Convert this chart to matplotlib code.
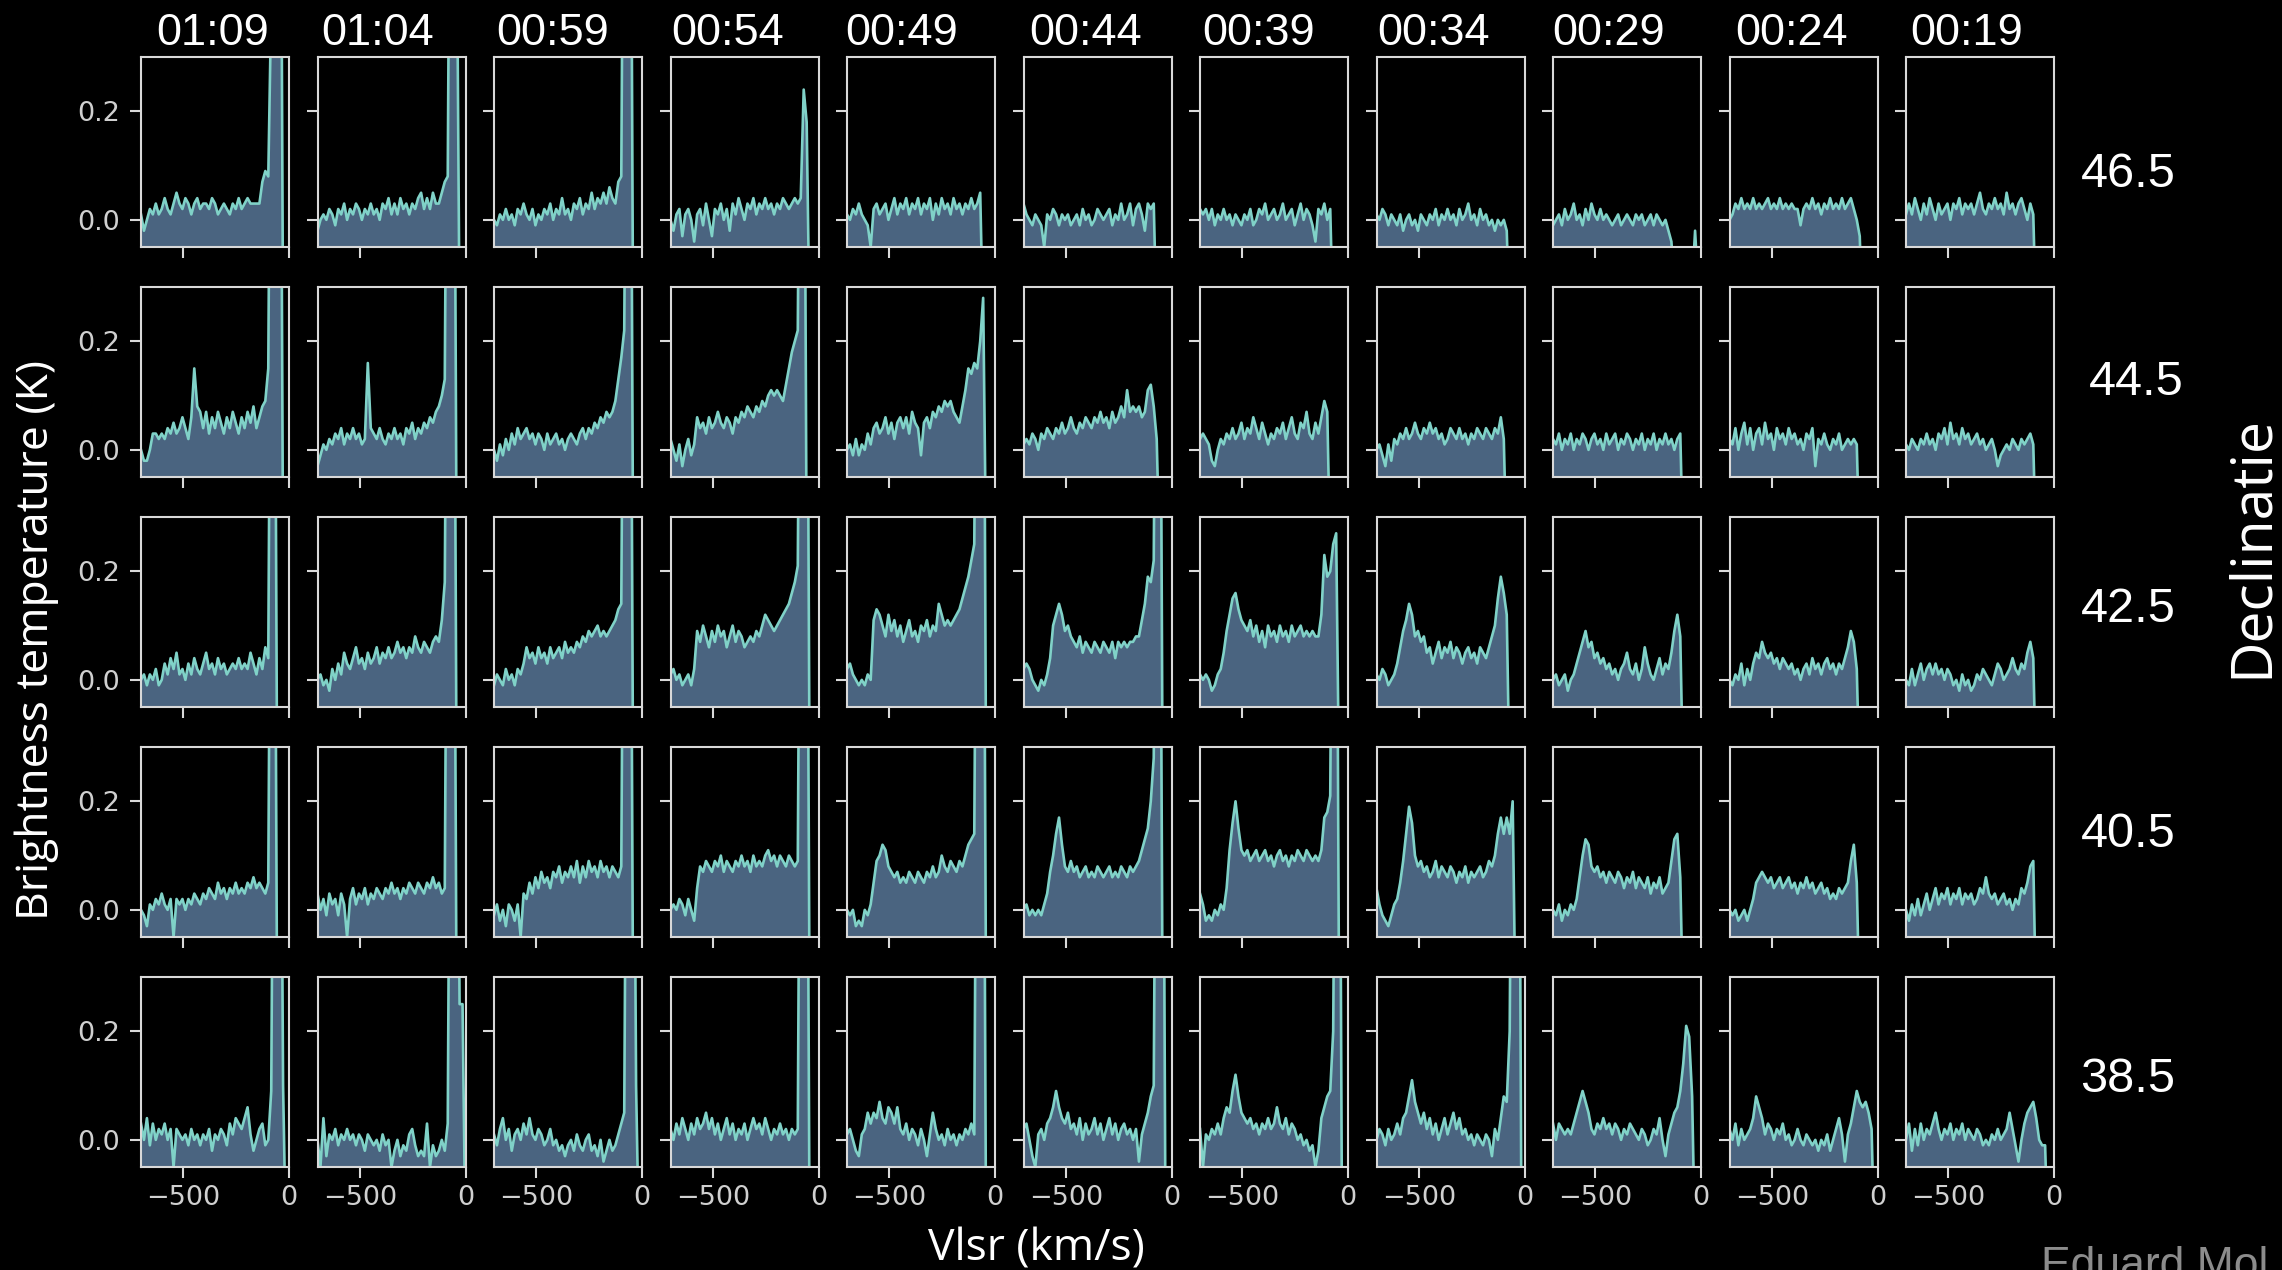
import numpy as np
import matplotlib
matplotlib.use("Agg")
import matplotlib.pyplot as plt

nan = float("nan")

# ---------------- data ----------------
VLSR = [-700, -686, -672, -658, -644, -630, -616, -602, -588, -574, -560, -546, -532,
        -518, -504, -490, -476, -462, -448, -434, -420, -406, -392, -378, -364, -350,
        -336, -322, -308, -294, -280, -266, -252, -238, -224, -210, -196, -182, -168,
        -154, -140, -126, -112, -98, -84, -70, -56, -42, -28, -14, 0]

TIMES = ["01:09", "01:04", "00:59", "00:54", "00:49", "00:44", "00:39", "00:34", "00:29", "00:24", "00:19"]
DECS = ["46.5", "44.5", "42.5", "40.5", "38.5"]
YTICKS = [0.0, 0.2]
YTICKLABELS = ["0.0", "0.2"]
XTICKS = [-500, 0]
XTICKLABELS = ["\u2212500", "0"]

# brightness temperature, in units of 0.01 K (channels follow VLSR)
# declination 46.5
S465_0109 = [1,-2,0,2,1,3,1,2,4,2, 1,3,5,3,2,4,3,1,3,4, 2,3,3,2,4,3,1,2,3,2, 1,3,2,4,2,3,4,3,3,3, 3,7,9,8,40,100,100,100,-20]
S465_0104 = [-2,0,1,0,2,1,-1,2,1,3, 0,2,1,3,2,0,2,1,3,1, 2,0,3,2,4,1,3,1,4,2, 3,1,3,2,4,5,2,4,2,5, 3,3,5,7,8,100,100,60,-20]
S465_0059 = [0,-1,1,0,2,0,1,-1,2,1, 3,1,0,2,-1,1,0,2,1,3, 0,2,1,4,1,2,0,3,2,4, 1,3,2,5,2,4,3,5,3,6, 4,3,7,8,100,100,100,-20]
S465_0054 = [0,-2,1,2,-3,1,2,0,-4,1, 2,-1,3,0,-3,2,1,3,0,2, -2,3,1,4,2,0,3,2,4,1, 3,2,4,2,3,1,3,2,4,3, 2,3,4,3,4,24,18,-20]
S465_0049 = [1,0,2,1,3,1,0,-1,-5,2, 3,1,2,3,0,2,4,1,3,2, 4,1,3,2,4,1,3,2,4,0, 3,1,4,2,3,1,4,2,3,1, 3,2,4,2,3,5,-20]
S465_0044 = [3,1,0,-1,1,0,-1,-5,1,0, 2,1,-1,1,0,1,-1,0,1,-1, 2,0,1,-1,0,2,1,0,1,2, -1,1,0,3,0,1,3,-1,2,3, 1,-2,3,2,3,-20]
S465_0039 = [2,1,2,0,2,-1,1,0,2,0, 1,-1,1,0,-1,1,0,2,-1,0, 2,1,3,0,1,2,0,1,3,0, 1,2,-1,1,3,0,2,1,-1,-4, 2,1,3,0,2,-20]
S465_0034 = [1,0,2,1,-1,1,0,-1,1,-2, 0,1,-1,0,-2,1,0,-1,1,0, 2,-1,1,0,2,0,1,-1,2,0, 1,3,0,1,-1,2,0,1,-1,0, -2,0,-1,0,-2,-20]
S465_0029 = [-1,0,1,-1,2,0,1,3,0,1, -1,2,0,3,1,0,2,0,1,0, -1,0,1,-1,0,1,0,-1,1,0, 1,-1,0,1,-1,1,0,-1,0,-2, -4,-12,-12,-12,-12,-12,-12,-12,-2,-12]
S465_0024 = [0,1,3,2,4,2,3,2,4,2, 3,2,3,4,2,3,2,4,2,3, 2,3,2,2,-1,2,3,2,4,2, 3,1,3,2,4,2,3,2,4,2, 3,4,2,0,-3,-20]
S465_0019 = [1,3,1,4,2,0,3,1,4,2, 0,3,1,2,3,0,3,2,4,1, 3,2,3,1,3,5,2,1,3,2, 4,2,3,1,5,2,3,1,3,4, 2,0,3,1,-20]

# declination 44.5
S445_0109 = [0,-2,-2,0,3,3,2,3,2,4, 3,5,3,4,6,4,2,6,15,8, 7,4,7,3,6,4,7,5,3,6, 4,7,5,3,6,4,7,5,8,4, 6,8,9,15,100,100,100,100,-20]
S445_0104 = [-3,-1,1,0,2,1,3,2,4,1, 3,2,4,2,3,1,2,16,4,3, 2,4,2,1,3,2,4,2,3,1, 4,3,5,2,4,3,5,4,6,5, 7,8,10,13,100,100,100,-20]
S445_0059 = [0,-2,1,-1,2,0,3,1,4,2, 3,4,2,3,1,3,2,0,3,1, 2,3,1,2,0,2,3,2,1,3, 4,2,4,3,5,4,6,5,7,6, 7,9,13,17,22,100,100,-20]
S445_0054 = [2,0,-2,1,-3,0,2,-1,1,6, 4,5,3,6,4,5,7,5,4,6, 5,3,6,5,7,6,8,7,6,8, 7,9,8,10,11,10,11,10,9,12, 15,18,20,22,100,100,-20]
S445_0049 = [0,1,-1,2,-1,1,0,3,1,4, 5,3,4,6,3,5,2,5,6,4, 6,3,7,5,4,-1,5,6,4,7, 6,8,7,9,8,9,7,6,5,8, 11,15,14,16,15,20,28,-20]
S445_0044 = [1,2,1,3,2,0,3,2,4,3, 2,4,3,5,3,4,6,4,3,5, 4,6,5,4,6,5,7,5,6,4, 7,5,6,8,6,11,7,8,7,8, 6,7,11,12,8,2,-20]
S445_0039 = [2,3,2,1,-2,-3,0,2,1,3, 2,4,2,3,5,2,4,3,6,4, 2,5,3,1,3,2,4,3,5,2, 4,6,3,2,5,4,7,3,2,5, 3,6,9,7,-20]
S445_0034 = [0,1,-1,-3,1,-2,2,1,3,2, 4,2,3,5,3,2,4,3,5,3, 4,2,3,1,2,4,3,2,4,2, 3,1,3,2,4,3,2,4,3,2, 4,3,6,2,-20]
S445_0029 = [2,1,3,0,2,1,3,0,2,1, 3,2,0,2,3,1,2,0,3,1, 2,3,0,2,1,3,2,0,2,1, 3,0,2,1,3,0,2,1,3,1, 2,0,2,3,-20]
S445_0024 = [2,1,4,0,3,5,1,4,0,3, 4,1,5,2,3,0,4,2,3,1, 4,2,3,1,2,0,3,2,4,-3, 2,1,3,1,0,2,1,3,0,1, 2,1,2,1,-20]
S445_0019 = [1,0,2,1,0,2,1,3,1,2, 0,3,2,4,1,5,2,3,1,4, 2,3,1,2,3,1,2,0,1,2, 0,-3,-1,0,1,0,2,1,0,2, 1,2,3,1,-20]

# declination 42.5
S425_0109 = [0,1,-1,1,0,2,-1,0,3,1, 4,2,5,1,2,0,3,1,4,2, 1,3,5,2,3,1,4,2,3,1, 2,3,2,4,2,3,2,5,3,1, 4,2,6,4,100,100,-20]
S425_0104 = [0,1,-1,0,-2,2,0,3,1,5, 3,2,4,6,3,4,2,5,3,4, 6,3,5,4,6,4,5,7,5,6, 4,6,5,8,6,5,7,6,5,7, 8,7,11,18,100,100,100,-20]
S425_0059 = [-1,1,0,-1,2,0,1,-1,2,1, 3,6,4,5,3,6,4,5,3,6, 4,5,6,4,7,5,6,5,7,6, 8,7,9,8,9,10,8,9,8,9, 10,11,13,14,100,100,100,-20]
S425_0054 = [1,2,0,1,-1,0,1,-1,2,9, 7,10,8,6,9,7,10,8,9,6, 8,10,7,9,8,6,7,8,7,9, 8,10,12,11,10,9,10,11,12,13, 14,16,18,21,100,100,100,-20]
S425_0049 = [2,3,1,0,-1,0,-1,1,0,11, 13,12,10,8,12,9,11,8,10,7, 9,11,8,9,7,10,9,11,8,10, 9,14,12,10,11,10,11,12,13,15, 17,19,22,25,100,100,100,-20]
S425_0044 = [2,3,2,0,-1,-2,0,-1,1,4, 10,12,14,12,9,10,8,7,6,8, 5,7,6,5,7,6,5,7,6,5, 7,4,7,6,7,6,7,7,8,8, 11,14,19,18,22,100,100,-20]
S425_0039 = [1,0,1,0,-2,-1,1,2,5,9, 12,15,16,13,11,10,9,11,8,10, 7,9,6,10,8,9,7,10,8,9, 7,10,8,9,10,8,9,8,9,8, 8,12,23,19,20,25,27,-20]
S425_0034 = [1,0,2,1,-1,0,1,3,6,9, 11,14,12,8,9,7,8,5,6,3, 5,7,4,6,5,7,4,6,5,3, 5,6,4,5,3,6,5,4,6,8, 10,15,19,16,12,-20]
S425_0029 = [0,1,-1,0,1,-2,0,1,3,5, 7,9,6,7,4,5,3,4,2,3, 1,2,0,2,3,5,2,1,3,0, 2,6,3,1,0,2,4,1,3,2, 5,9,12,8,-20]
S425_0024 = [0,-1,1,0,3,-1,2,0,3,5, 4,7,5,4,5,3,4,2,4,3, 2,3,1,2,0,2,3,1,4,2, 3,1,3,4,2,3,1,3,2,4, 6,9,7,2,-20]
S425_0019 = [0,-1,2,-1,1,3,0,2,3,1, 3,1,2,0,2,1,-1,0,-2,1, -1,0,-2,-1,1,0,2,1,0,-1, 1,3,2,0,1,2,4,2,1,3, 2,5,7,4,-20]

# declination 40.5
S405_0109 = [0,-1,-3,1,0,2,1,3,1,0, 2,-5,2,1,2,0,2,1,3,2, 1,3,2,4,3,2,5,3,4,2, 4,3,5,3,4,3,5,4,6,4, 5,4,3,5,100,100,-20]
S405_0104 = [3,0,2,-1,3,1,2,-1,3,1, -5,2,4,1,3,2,4,1,3,2, 4,3,2,4,3,5,3,4,2,4, 3,5,4,3,5,4,3,5,4,6, 4,5,3,4,100,100,100,-20]
S405_0059 = [-1,1,-2,0,-3,1,0,-2,1,-5, 3,2,5,3,6,4,7,5,6,4, 7,6,8,5,7,6,8,6,9,5, 8,6,9,7,8,6,9,7,8,6, 8,7,6,8,100,100,100,-20]
S405_0054 = [0,1,0,2,1,-1,2,0,-2,4, 8,7,9,8,7,9,8,10,7,9, 8,7,9,8,10,8,9,7,10,8, 9,8,10,11,9,10,8,10,9,8, 10,9,8,9,100,100,100,-20]
S405_0049 = [0,-1,0,-3,-2,-3,0,-1,1,5, 9,10,12,11,8,7,6,7,5,6, 5,7,6,5,7,6,5,7,6,8, 6,7,10,8,7,9,8,7,9,8, 10,12,13,14,100,100,100,-20]
S405_0044 = [0,1,-1,0,-1,0,-1,1,3,7, 10,14,17,12,8,7,9,7,8,6, 7,8,6,7,6,8,7,6,7,8, 6,7,6,8,7,6,8,7,8,9, 11,13,15,20,28,100,100,-20]
S405_0039 = [3,1,-2,-1,-2,0,-1,1,0,4, 11,16,20,15,11,10,11,9,10,11, 9,10,11,9,10,8,10,11,9,10, 8,10,9,11,10,9,11,10,9,10, 9,11,17,18,21,100,100,-20]
S405_0034 = [4,1,-1,-2,-3,-1,1,2,5,9, 14,19,16,10,8,9,7,8,6,7, 9,6,8,7,6,8,7,5,7,6, 8,5,7,6,7,8,6,7,9,8, 10,14,17,14,17,14,20,-20]
S405_0029 = [0,-1,1,-2,0,-1,1,0,2,6, 10,13,12,8,7,8,6,7,5,7, 6,5,7,6,4,6,5,7,4,6, 5,4,6,3,5,4,6,3,4,5, 9,13,14,6,-20]
S405_0024 = [0,-1,0,-2,-1,0,-2,0,2,5, 6,7,6,5,6,4,5,6,4,5, 6,4,5,3,5,4,6,4,5,3, 4,5,3,4,2,3,2,4,3,4, 5,9,12,5,-20]
S405_0019 = [0,-2,1,-1,2,-1,1,3,0,2, 4,1,3,2,4,1,3,2,4,1, 3,2,3,1,2,4,3,6,3,2, 3,1,2,3,1,2,0,2,1,4, 3,5,8,9,-20]

# declination 38.5
S385_0109 = [3,0,4,-1,3,0,2,1,3,0, 2,-5,2,1,0,1,-1,2,0,1, -1,1,0,2,-2,1,0,2,1,-1, 3,1,4,3,2,4,6,1,-2,0, 2,3,-1,0,9,100,100,100,10,-20]
S385_0104 = [0,-5,4,-3,1,0,2,-1,1,0, 2,0,1,-1,1,0,-2,1,0,-1, 0,-2,1,-1,0,-5,-2,0,-3,-1, -2,1,2,-1,-3,-2,-3,3,-5,-1, -3,-2,0,-2,3,100,100,100,25,25, -20]
S385_0059 = [1,-1,2,4,0,2,-2,1,2,0, 3,1,4,1,0,2,1,-1,0,2, -1,0,-2,-1,-3,-1,0,-2,1,-1, -2,0,1,-2,-1,-3,0,-4,-2,0, -2,-1,1,3,5,100,100,100,10,-20]
S385_0054 = [2,0,3,1,4,2,0,3,1,4, 2,3,5,2,4,1,3,0,2,4, 1,3,0,2,1,3,0,2,4,2, 3,1,4,2,0,2,1,3,1,2, 0,2,1,2,100,100,100,-20]
S385_0049 = [1,2,0,-2,-3,1,2,5,3,5, 4,7,4,3,6,5,3,6,2,1, 3,0,2,1,-1,2,0,-3,1,5, 2,0,1,-1,2,0,1,-1,1,0, 2,1,3,1,100,100,100,-20]
S385_0044 = [2,3,0,-3,-5,1,2,0,3,4, 6,9,6,4,3,5,2,3,1,4, 0,3,1,2,4,1,3,0,2,4, 1,3,0,2,3,1,2,0,2,-4, 1,3,5,8,10,100,100,100,-20]
S385_0039 = [2,-5,1,0,2,1,3,1,4,6, 5,9,12,8,5,4,3,4,2,3, 1,3,2,4,2,3,6,3,2,4, 1,3,2,0,1,-1,0,-2,-1,-5, -2,4,6,8,9,20,100,100,-20]
S385_0034 = [0,2,1,-1,2,0,1,3,1,4, 5,8,11,7,5,3,5,2,4,1, 3,0,2,4,1,3,5,2,4,1, 2,0,1,-1,1,0,-1,1,0,-3, 2,0,4,8,7,20,100,100,100,-20]
S385_0029 = [3,0,3,2,1,2,1,3,5,7, 9,7,5,2,1,3,2,4,2,3, 1,3,2,0,2,1,3,2,1,0, 2,1,-1,0,2,1,4,0,-3,1, 3,5,6,9,14,21,19,8,-20]
S385_0024 = [2,0,3,-1,2,0,1,2,4,8, 6,4,1,3,2,0,2,1,3,0, 1,-1,0,2,0,-1,1,0,-1,0, -2,0,-1,1,-2,0,2,4,1,-4, 1,3,6,9,7,6,7,5,2,-20]
S385_0019 = [0,3,-2,2,-1,3,0,2,1,3, 5,2,0,2,1,3,0,2,1,3, 0,2,1,0,2,1,-1,0,-1,1, 0,2,0,1,2,5,2,-1,-4,0, 3,5,6,7,4,0,-1,-1,-20]

SPECTRA = [
    [S465_0109, S465_0104, S465_0059, S465_0054, S465_0049, S465_0044, S465_0039, S465_0034, S465_0029, S465_0024, S465_0019],
    [S445_0109, S445_0104, S445_0059, S445_0054, S445_0049, S445_0044, S445_0039, S445_0034, S445_0029, S445_0024, S445_0019],
    [S425_0109, S425_0104, S425_0059, S425_0054, S425_0049, S425_0044, S425_0039, S425_0034, S425_0029, S425_0024, S425_0019],
    [S405_0109, S405_0104, S405_0059, S405_0054, S405_0049, S405_0044, S405_0039, S405_0034, S405_0029, S405_0024, S405_0019],
    [S385_0109, S385_0104, S385_0059, S385_0054, S385_0049, S385_0044, S385_0039, S385_0034, S385_0029, S385_0024, S385_0019],
]

# ---------------- style / layout ----------------
W, H = 2282, 1270
LINE_C = "#80d2c8"
FILL_C = "#4a6480"
SPINE_C = "#d9d9d9"
TICKLAB_C = "#d0d0d0"

fig = plt.figure(figsize=(W / 100, H / 100), dpi=100, facecolor="black")

PANEL_W, PANEL_H = 148, 190
COL_PITCH, ROW_PITCH = 176.5, 230
LEFT0, TOP0 = 141, 57

for r in range(len(DECS)):
    for c in range(len(TIMES)):
        left = LEFT0 + COL_PITCH * c
        top = TOP0 + ROW_PITCH * r
        ax = fig.add_axes([left / W, 1 - (top + PANEL_H) / H, PANEL_W / W, PANEL_H / H])
        ax.set_facecolor("black")
        y = np.array(SPECTRA[r][c], dtype=float) / 100.0
        x = np.array(VLSR[:len(y)], dtype=float)
        ax.fill_between(x, y, -1.0, color=FILL_C, linewidth=0, zorder=1)
        ax.plot(x, y, color=LINE_C, lw=1.9, zorder=2)
        ax.set_xlim(-700, 0)
        ax.set_ylim(-0.05, 0.3)
        for s in ax.spines.values():
            s.set_color(SPINE_C)
            s.set_linewidth(1.5)
            s.set_zorder(3)
        ax.set_xticks(XTICKS)
        ax.set_yticks(YTICKS)
        ax.tick_params(axis="both", colors=SPINE_C, labelcolor=TICKLAB_C,
                       length=8, width=1.5, labelsize=19.5)
        ax.tick_params(axis="y", pad=7)
        ax.tick_params(axis="x", pad=5)
        if c == 0:
            ax.set_yticklabels(YTICKLABELS)
        else:
            ax.tick_params(axis="y", labelleft=False)
        if r == len(DECS) - 1:
            ax.set_xticklabels(XTICKLABELS)
        else:
            ax.tick_params(axis="x", labelbottom=False)

# column titles (time) above the top row
TITLE_X = [213, 378, 553, 728, 902, 1086, 1259, 1434, 1609, 1792, 1967]
for lab, xc in zip(TIMES, TITLE_X):
    fig.text(xc / W, 1 - 45 / H, lab, ha="center", va="baseline", color="white",
             fontsize=32.5, family=["Liberation Sans", "DejaVu Sans"])

# declination labels on the right
DEC_X = [2128, 2136, 2128, 2128, 2128]
DEC_BASELINES = [187, 395, 622, 847, 1092]
for lab, xc, yb in zip(DECS, DEC_X, DEC_BASELINES):
    fig.text(xc / W, 1 - yb / H, lab, ha="center", va="baseline", color="white",
             fontsize=35, family=["Liberation Sans", "DejaVu Sans"])

fig.text(2252 / W, 1 - 547 / H, "Declinatie", rotation=90, ha="center", va="center",
         color="white", fontsize=41, family=["Open Sans", "DejaVu Sans"])
fig.text(37 / W, 1 - 640 / H, "Brightness temperature (K)", rotation=90, ha="center",
         va="center", color="white", fontsize=32, family=["Open Sans", "DejaVu Sans"])
fig.text(1036 / W, 1 - 1260 / H, "Vlsr (km/s)", ha="center", va="baseline",
         color="white", fontsize=32, family=["Open Sans", "DejaVu Sans"])
fig.text(2041 / W, 1 - 1278 / H, "Eduard Mol", ha="left", va="baseline",
         color="#8c8c8c", fontsize=32, family=["Liberation Sans", "DejaVu Sans"])

fig.savefig("out.png", dpi=100, facecolor="black")
